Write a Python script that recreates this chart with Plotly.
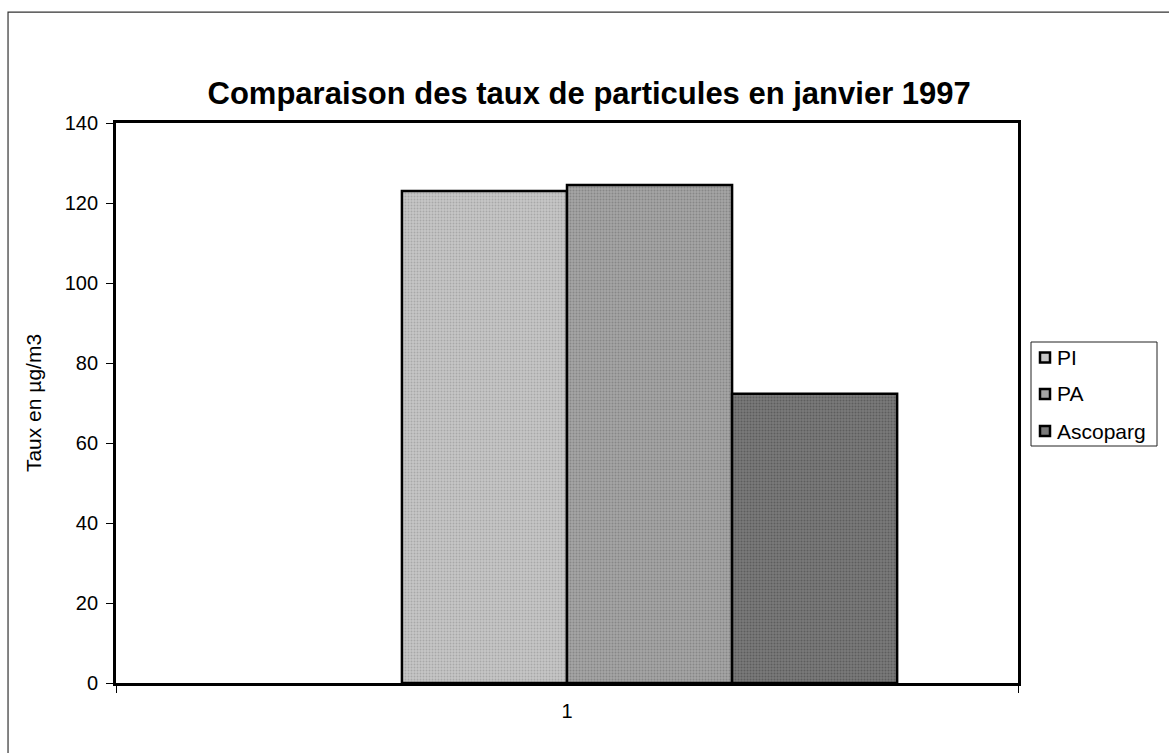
import plotly.graph_objects as go

# Data
categories = ["1"]
series_names = ["PI", "PA", "Ascoparg"]
series_values = [[123], [124.5], [72.3]]
y_ticks = [0, 20, 40, 60, 80, 100, 120, 140]

# Styling per series (base tone, dot tone) and bar placement within the category
fills = ["#c6c6c6", "#a4a4a4", "#7a7a7a"]
dots = ["#8a8a8a", "#6a6a6a", "#404040"]
bar_width = 0.183
bar_offsets = [-0.183, 0.0, 0.183]

FONT = "Arial, Liberation Sans, sans-serif"

fig = go.Figure()
for name, vals, fc, dc, off in zip(series_names, series_values, fills, dots, bar_offsets):
    fig.add_trace(go.Bar(
        x=categories, y=vals, name=name,
        width=bar_width, offset=off,
        marker=dict(
            color=fc,
            line=dict(color="black", width=2.5),
            pattern=dict(shape=".", fgcolor=dc, bgcolor=fc, size=3, solidity=0.35),
        ),
        showlegend=False,
    ))

fig.update_layout(
    width=1169, height=753,
    margin=dict(l=116, r=151, t=123, b=70),
    paper_bgcolor="white", plot_bgcolor="white",
    barmode="group",
    font=dict(family=FONT, size=20, color="black"),
    title=dict(
        text="<b>Comparaison des taux de particules en janvier 1997</b>",
        font=dict(family=FONT, size=31, color="black"),
        x=0.504, xanchor="center", xref="container",
        y=1 - 93 / 753, yanchor="middle", yref="container",
    ),
)

fig.update_xaxes(
    type="category", range=[-0.5, 0.5],
    showline=True, linecolor="black", linewidth=2.8, mirror=True,
    ticks="outside", tickson="boundaries", ticklen=7, tickcolor="black", tickwidth=1,
    showgrid=False, zeroline=False, ticklabelstandoff=8,
    tickfont=dict(family=FONT, size=20),
)
fig.update_yaxes(
    range=[0, 140], tickvals=y_ticks,
    showline=True, linecolor="black", linewidth=2.8, mirror=True,
    ticks="outside", ticklen=7, tickcolor="black", tickwidth=1,
    showgrid=False, zeroline=False, ticklabelstandoff=4,
    tickfont=dict(family=FONT, size=20),
    title=dict(text="Taux en µg/m3", font=dict(family=FONT, size=21), standoff=18),
)

# Outer frame around the whole chart
fig.add_shape(type="rect", xref="paper", yref="paper",
              x0=-0.1197, x1=1.18, y0=-0.16, y1=1.198,
              line=dict(color="#333333", width=1.2), fillcolor="rgba(0,0,0,0)", layer="below")

# Legend box with swatches and labels
lx0, lx1 = (1031 - 116) / 902, (1157 - 116) / 902
ly1, ly0 = (683 - 342) / 560, (683 - 446) / 560
fig.add_shape(type="rect", xref="paper", yref="paper", x0=lx0, x1=lx1, y0=ly0, y1=ly1,
              line=dict(color="#222222", width=1), fillcolor="white")
entry_y = [(683 - 357.5) / 560, (683 - 394) / 560, (683 - 431) / 560]
sw = 10 / 902
sh = 10 / 560
for name, fc, ey in zip(series_names, fills, entry_y):
    sx0 = (1040 - 116) / 902
    fig.add_shape(type="rect", xref="paper", yref="paper",
                  x0=sx0, x1=sx0 + sw, y0=ey - sh / 2, y1=ey + sh / 2,
                  line=dict(color="black", width=2.5), fillcolor=fc)
    fig.add_annotation(xref="paper", yref="paper", x=(1055 - 116) / 902, y=ey,
                       text=name, showarrow=False, xanchor="left", yanchor="middle",
                       font=dict(family=FONT, size=21, color="black"))

fig.write_html("out.html")
